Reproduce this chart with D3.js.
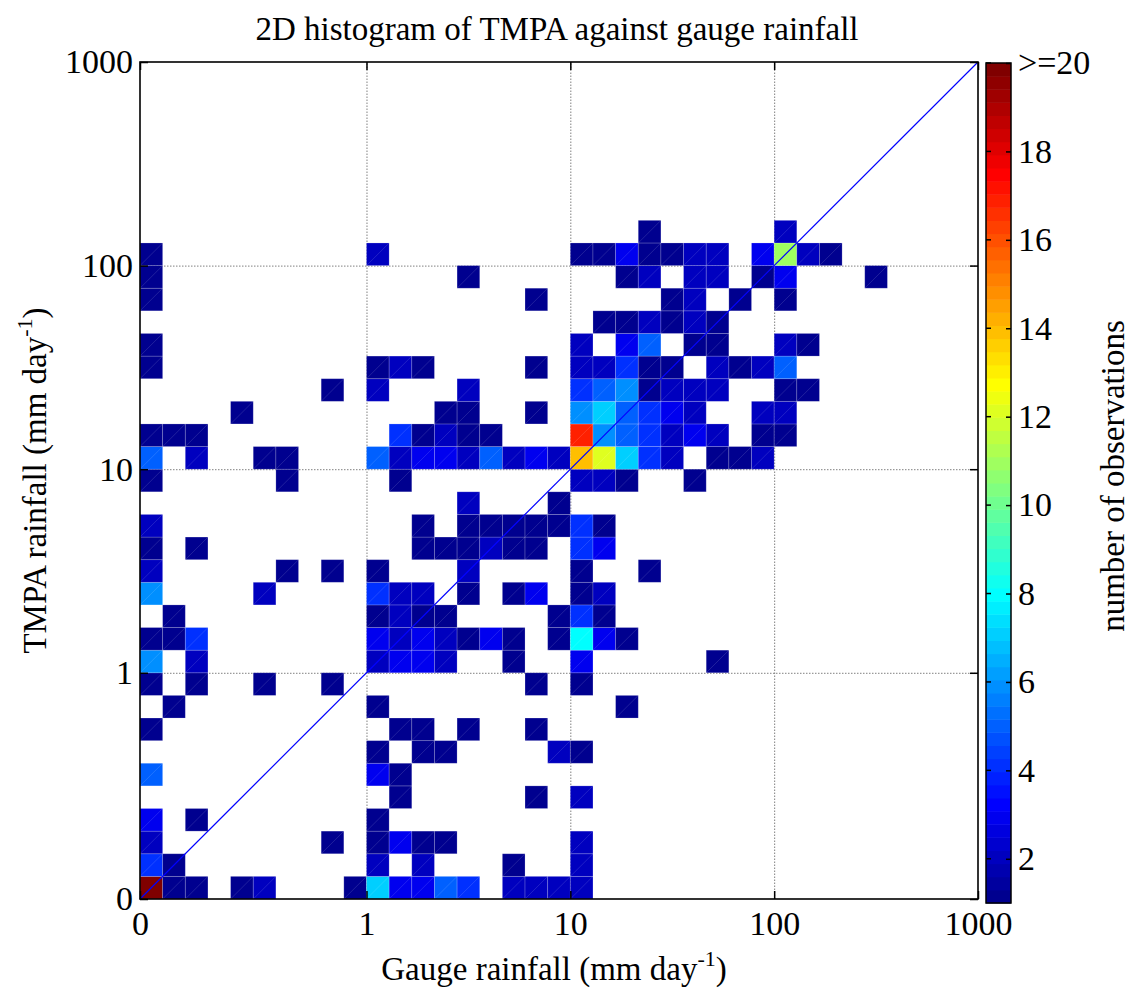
<!DOCTYPE html>
<html>
<head>
<meta charset="utf-8">
<script src="https://cdn.jsdelivr.net/npm/d3@7"></script>
<style>
  body { margin: 0; background: #fff; }
  text { font-family: "Liberation Serif", "Times New Roman", serif; fill: #000; }
</style>
</head>
<body>
<svg id="chart" width="1133" height="988"></svg>
<script>
// 37 bins per axis: 10 bins below 1 mm/day, then 9 per decade up to 1000
const nBins = 37
const binTicks = [0, 10, 19, 28, 37]
const tickLabels = ['0', '1', '10', '100', '1000']

// counts per TMPA bin (row 0 = lowest), each entry [gauge bin, count]
const countsByTmpaBin = [
  [[0,20],[1,1],[2,1],[4,1],[5,2],[9,1],[10,7],[11,3],[12,3],[13,5],[14,4],[16,2],[17,2],[18,2],[19,2]],
  [[0,4],[1,1],[10,2],[12,2],[16,1],[19,2]],
  [[0,2],[8,1],[10,1],[11,3],[12,1],[13,1],[19,2]],
  [[0,3],[2,1],[10,1]],
  [[11,1],[17,1],[19,2]],
  [[0,5],[10,3],[11,1]],
  [[10,1],[12,1],[13,1],[18,2],[19,1]],
  [[0,1],[11,1],[12,1],[14,1],[17,1]],
  [[1,1],[10,1],[21,1]],
  [[0,1],[2,1],[5,1],[8,1],[17,1],[19,1]],
  [[0,6],[2,2],[10,2],[11,3],[12,3],[13,2],[16,1],[19,3],[25,1]],
  [[0,1],[1,1],[2,4],[10,3],[11,2],[12,3],[13,2],[14,1],[15,3],[16,1],[18,1],[19,8],[20,3],[21,1]],
  [[1,1],[10,1],[11,2],[12,1],[13,1],[18,1],[19,4],[20,1]],
  [[0,6],[5,2],[10,4],[11,2],[12,2],[14,1],[16,1],[17,3],[19,1],[20,2]],
  [[0,2],[6,1],[8,1],[10,1],[14,2],[19,1],[22,1]],
  [[0,1],[2,1],[12,1],[13,1],[14,1],[15,2],[16,1],[17,1],[19,4],[20,3]],
  [[0,2],[12,1],[14,1],[15,1],[16,1],[17,1],[18,1],[19,4],[20,1]],
  [[14,2],[18,1]],
  [[0,1],[6,1],[11,1],[19,2],[20,2],[21,1],[24,1]],
  [[0,5],[2,2],[5,1],[6,1],[10,5],[11,2],[12,3],[13,3],[14,2],[15,5],[16,2],[17,3],[18,2],[19,14],[20,12],[21,7],[22,4],[23,2],[25,1],[26,1],[27,2]],
  [[0,1],[1,1],[2,1],[11,4],[12,1],[13,2],[14,1],[15,1],[19,17],[20,6],[21,5],[22,4],[23,2],[24,3],[25,2],[27,1],[28,1]],
  [[4,1],[13,1],[14,1],[17,1],[19,6],[20,7],[21,5],[22,4],[23,3],[24,2],[27,2],[28,2]],
  [[8,1],[10,2],[14,2],[19,4],[20,5],[21,6],[22,1],[23,2],[24,2],[25,2],[28,1],[29,1]],
  [[0,1],[10,1],[11,2],[12,1],[17,1],[19,2],[20,2],[21,4],[22,1],[23,1],[25,2],[26,1],[27,2],[28,5]],
  [[0,1],[19,2],[21,3],[22,5],[24,1],[25,1],[28,2],[29,1]],
  [[20,1],[21,1],[22,2],[23,1],[24,2],[25,1]],
  [[0,1],[17,1],[23,1],[24,2],[26,1],[28,1]],
  [[0,1],[14,1],[21,1],[22,2],[24,2],[25,2],[27,1],[28,3],[32,1]],
  [[0,1],[10,2],[19,1],[20,1],[21,3],[22,1],[23,1],[24,2],[25,2],[27,3],[28,11],[29,2],[30,1]],
  [[22,1],[28,2]]
]

const colorLimits = [1, 20]
const colorbarTicks = [2, 4, 6, 8, 10, 12, 14, 16, 18, 20]

// matlab jet(64)
const jet = m => {
  const n = Math.ceil(m / 4)
  const u = []
  for (let i = 1; i <= n; i++) u.push(i / n)
  for (let i = 1; i < n; i++) u.push(1)
  for (let i = n; i >= 1; i--) u.push(i / n)
  const g0 = Math.ceil(n / 2) - (m % 4 === 1 ? 1 : 0)
  const at = i => (i >= 1 && i <= u.length) ? u[i - 1] : 0
  const out = []
  for (let k = 1; k <= m; k++) {
    const r = at(k - g0 - n), g = at(k - g0), b = at(k - g0 + n)
    out.push(d3.rgb(r * 255, g * 255, b * 255).formatHex())
  }
  return out
}
const jet64 = jet(64)

const cells = countsByTmpaBin.flatMap((row, j) => row.map(([i, c]) => ({ i, j, c })))

const svg = d3.select('#chart')
const x = d3.scaleLinear().domain([0, nBins]).range([140, 978])
const y = d3.scaleLinear().domain([0, nBins]).range([899, 62])
const color = d3.scaleQuantize().domain(colorLimits).range(jet64)

// grid
const grid = svg.append('g')
  .attr('stroke', '#808080')
  .attr('stroke-width', 1)
  .attr('stroke-dasharray', '1.5 1.5')
grid.selectAll('.gx').data(binTicks.slice(1, -1)).join('line')
  .attr('x1', d => x(d) + 0.5).attr('x2', d => x(d) + 0.5)
  .attr('y1', y(0)).attr('y2', y(nBins))
grid.selectAll('.gy').data(binTicks.slice(1, -1)).join('line')
  .attr('x1', x(0)).attr('x2', x(nBins))
  .attr('y1', d => y(d) + 0.5).attr('y2', d => y(d) + 0.5)

// histogram cells
const cellG = svg.append('g')
cellG.selectAll('rect').data(cells).join('rect')
  .attr('x', d => x(d.i))
  .attr('y', d => y(d.j + 1))
  .attr('width', d => x(d.i + 1) - x(d.i))
  .attr('height', d => y(d.j) - y(d.j + 1))
  .attr('fill', d => color(d.c))
  .attr('stroke', 'rgba(255,255,255,0.22)')
  .attr('stroke-width', 0.8)
cellG.selectAll('line').data(cells).join('line')
  .attr('x1', d => x(d.i)).attr('y1', d => y(d.j))
  .attr('x2', d => x(d.i + 1)).attr('y2', d => y(d.j + 1))
  .attr('stroke', 'rgba(255,255,255,0.18)')
  .attr('stroke-width', 0.7)

// 1:1 line
svg.append('line')
  .attr('x1', x(0)).attr('y1', y(0))
  .attr('x2', x(nBins)).attr('y2', y(nBins))
  .attr('stroke', '#0000ff')
  .attr('stroke-width', 1.2)

// axes
const fmt = (d, k) => tickLabels[k]
const axBottom = svg.append('g').attr('transform', `translate(0,${y(0)})`)
  .call(d3.axisBottom(x).tickValues(binTicks).tickFormat(fmt).tickSizeInner(-8).tickSizeOuter(0).tickPadding(12))
const axLeft = svg.append('g').attr('transform', `translate(${x(0)},0)`)
  .call(d3.axisLeft(y).tickValues(binTicks).tickFormat(fmt).tickSizeInner(-8).tickSizeOuter(0).tickPadding(7))
const axTop = svg.append('g').attr('transform', `translate(0,${y(nBins)})`)
  .call(d3.axisTop(x).tickValues(binTicks).tickFormat('').tickSizeInner(-8).tickSizeOuter(0))
const axRight = svg.append('g').attr('transform', `translate(${x(nBins)},0)`)
  .call(d3.axisRight(y).tickValues(binTicks).tickFormat('').tickSizeInner(-8).tickSizeOuter(0))
;[axBottom, axLeft, axTop, axRight].forEach(g => {
  g.select('.domain').remove()
  g.selectAll('line').attr('stroke', '#000').attr('stroke-width', 1.5)
  g.selectAll('text').attr('font-size', 34).attr('font-family', '"Liberation Serif", serif')
})
svg.append('rect')
  .attr('x', x(0)).attr('y', y(nBins))
  .attr('width', x(nBins) - x(0)).attr('height', y(0) - y(nBins))
  .attr('fill', 'none').attr('stroke', '#000').attr('stroke-width', 1.6)

// colorbar
const cbX = 986, cbW = 25
const yc = d3.scaleLinear().domain(colorLimits).range([903, 63])
const step = (colorLimits[1] - colorLimits[0]) / jet64.length
svg.append('g').selectAll('rect').data(jet64).join('rect')
  .attr('x', cbX)
  .attr('y', (d, k) => yc(colorLimits[0] + (k + 1) * step))
  .attr('width', cbW)
  .attr('height', (d, k) => yc(colorLimits[0] + k * step) - yc(colorLimits[0] + (k + 1) * step) + 0.5)
  .attr('fill', d => d)
svg.append('rect')
  .attr('x', cbX).attr('y', yc(colorLimits[1]))
  .attr('width', cbW).attr('height', yc(colorLimits[0]) - yc(colorLimits[1]))
  .attr('fill', 'none').attr('stroke', '#000').attr('stroke-width', 1.5)
const cbAxis = svg.append('g').attr('transform', `translate(${cbX + cbW},0)`)
  .call(d3.axisRight(yc).tickValues(colorbarTicks)
    .tickFormat(d => d === 20 ? '>=20' : d).tickSizeInner(-5).tickSizeOuter(0).tickPadding(7))
cbAxis.select('.domain').remove()
cbAxis.selectAll('line').attr('stroke', '#000').attr('stroke-width', 1.5)
cbAxis.selectAll('text').attr('font-size', 34).attr('font-family', '"Liberation Serif", serif')
svg.append('g').selectAll('line').data(colorbarTicks).join('line')
  .attr('x1', cbX).attr('x2', cbX + 5)
  .attr('y1', d => yc(d)).attr('y2', d => yc(d))
  .attr('stroke', '#000').attr('stroke-width', 1.5)

// titles
svg.append('text')
  .attr('x', (x(0) + x(nBins)) / 2 - 2).attr('y', 40)
  .attr('text-anchor', 'middle').attr('font-size', 33)
  .text('2D histogram of TMPA against gauge rainfall')

const xLab = svg.append('text')
  .attr('x', 554).attr('y', 980)
  .attr('text-anchor', 'middle').attr('font-size', 33)
xLab.append('tspan').text('Gauge rainfall (mm day')
xLab.append('tspan').attr('dy', -14).attr('font-size', 22).text('-1')
xLab.append('tspan').attr('dy', 14).text(')')

const yLab = svg.append('text')
  .attr('transform', `translate(46,${(y(0) + y(nBins)) / 2}) rotate(-90)`)
  .attr('text-anchor', 'middle').attr('font-size', 33)
yLab.append('tspan').text('TMPA rainfall (mm day')
yLab.append('tspan').attr('dy', -14).attr('font-size', 22).text('-1')
yLab.append('tspan').attr('dy', 14).text(')')

svg.append('text')
  .attr('transform', `translate(1124,476) rotate(-90)`)
  .attr('text-anchor', 'middle').attr('font-size', 33)
  .text('number of observations')
</script>
</body>
</html>
